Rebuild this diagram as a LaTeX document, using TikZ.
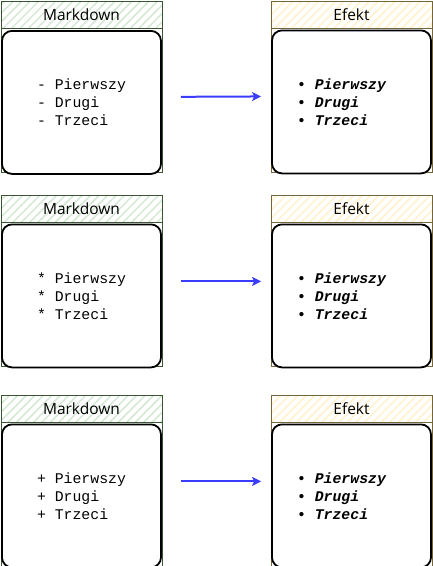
\documentclass[tikz,border=0pt]{standalone}
\usepackage{fontspec}
\setmainfont{Open Sans}
\newfontfamily\codefont{Liberation Mono}
\usetikzlibrary{positioning,patterns.meta,arrows.meta}
\definecolor{mdstroke}{HTML}{3A5431}
\definecolor{mdhatch}{HTML}{D5E8D4}
\definecolor{efstroke}{HTML}{74653A}
\definecolor{efhatch}{HTML}{FFF2CC}
\definecolor{arrowblue}{HTML}{3C3CFF}
\tikzstyle{lane}=[draw,line width=1pt,fill=white,minimum width=161pt,minimum height=171pt,inner sep=0pt]
\tikzstyle{mdlane}=[lane,draw=mdstroke]
\tikzstyle{eflane}=[lane,draw=efstroke]
\tikzstyle{header}=[draw,line width=1pt,minimum width=161pt,minimum height=27pt,inner sep=0pt,font=\fontsize{15.5}{18}\selectfont]
\tikzstyle{mdheader}=[header,draw=mdstroke,pattern={Lines[angle=45,distance=6pt,line width=1.5pt]},pattern color=mdhatch]
\tikzstyle{efheader}=[header,draw=efstroke,pattern={Lines[angle=45,distance=6pt,line width=1.5pt]},pattern color=efhatch]
\tikzstyle{body}=[draw=black,line width=1.8pt,rounded corners=10pt,fill=white,minimum width=159pt,minimum height=143pt,inner sep=0pt]
\tikzstyle{code}=[align=left,inner sep=0pt,font=\codefont\fontsize{14.8}{18}\selectfont]
\tikzstyle{effect}=[align=left,inner sep=0pt,font=\codefont\bfseries\itshape\fontsize{14.8}{18}\selectfont]
\tikzstyle{arrow}=[line width=2pt,->,>={Stealth[length=9pt,width=9pt,inset=2pt]},draw=arrowblue,shorten <=19pt,shorten >=10pt]

\begin{document}
\begin{tikzpicture}[x=1pt,y=-1pt]
            \useasboundingbox (0,0) rectangle (433,566);

            % row 1
            \node (mdlane1) [mdlane] at (81.5,86.5) {};
            \node (eflane1) [eflane] at (351.5,86.5) {};
            \node (mdhdr1) [mdheader, below=0pt of mdlane1.north] {Markdown};
            \node (efhdr1) [efheader, below=0pt of eflane1.north] {Efekt};
            \node (mdbox1) [body, below=1pt of mdhdr1] {};
            \node (efbox1) [body, below=1pt of efhdr1] {};
            \node (mdtxt1) [code] at (mdbox1) {- Pierwszy\\- Drugi\\- Trzeci};
            \node (eftxt1) [effect] at ([xshift=-10pt]efbox1.center) {{\upshape •} Pierwszy\\{\upshape •} Drugi\\{\upshape •} Trzeci};
            \draw[arrow] ([yshift=5.5pt]mdbox1.east) -- ([yshift=5.5pt]efbox1.west);

            % row 2
            \node (mdlane2) [mdlane] at (81.5,280.5) {};
            \node (eflane2) [eflane] at (351.5,280.5) {};
            \node (mdhdr2) [mdheader, below=0pt of mdlane2.north] {Markdown};
            \node (efhdr2) [efheader, below=0pt of eflane2.north] {Efekt};
            \node (mdbox2) [body, below=1pt of mdhdr2] {};
            \node (efbox2) [body, below=1pt of efhdr2] {};
            \node (mdtxt2) [code] at (mdbox2) {* Pierwszy\\* Drugi\\* Trzeci};
            \node (eftxt2) [effect] at ([xshift=-10pt]efbox2.center) {{\upshape •} Pierwszy\\{\upshape •} Drugi\\{\upshape •} Trzeci};
            \draw[arrow] ([yshift=14.5pt]mdbox2.east) -- ([yshift=14.5pt]efbox2.west);

            % row 3
            \node (mdlane3) [mdlane] at (81.5,480.5) {};
            \node (eflane3) [eflane] at (351.5,480.5) {};
            \node (mdhdr3) [mdheader, below=0pt of mdlane3.north] {Markdown};
            \node (efhdr3) [efheader, below=0pt of eflane3.north] {Efekt};
            \node (mdbox3) [body, below=1pt of mdhdr3] {};
            \node (efbox3) [body, below=1pt of efhdr3] {};
            \node (mdtxt3) [code] at (mdbox3) {+ Pierwszy\\+ Drugi\\+ Trzeci};
            \node (eftxt3) [effect] at ([xshift=-10pt]efbox3.center) {{\upshape •} Pierwszy\\{\upshape •} Drugi\\{\upshape •} Trzeci};
            \draw[arrow] ([yshift=14.5pt]mdbox3.east) -- ([yshift=14.5pt]efbox3.west);
\end{tikzpicture}
\end{document}
